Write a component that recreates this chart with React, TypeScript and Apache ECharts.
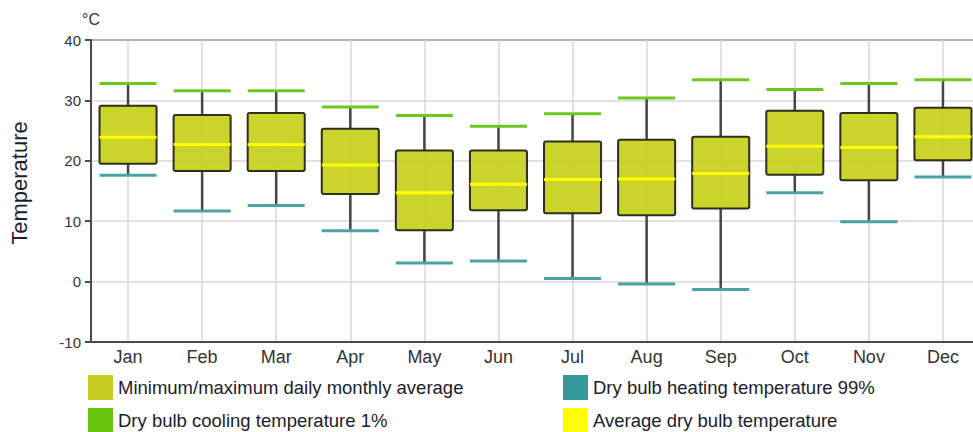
import React, { useEffect, useRef } from "react";
import * as echarts from "echarts";

const months = ["Jan", "Feb", "Mar", "Apr", "May", "Jun", "Jul", "Aug", "Sep", "Oct", "Nov", "Dec"];
const boxLow = [19.5, 18.3, 18.3, 14.5, 8.5, 11.8, 11.3, 11.0, 12.1, 17.7, 16.8, 20.1];
const boxHigh = [29.1, 27.6, 27.9, 25.3, 21.7, 21.7, 23.2, 23.5, 24.0, 28.3, 27.9, 28.8];
const average = [23.9, 22.7, 22.7, 19.3, 14.7, 16.1, 16.9, 17.0, 17.9, 22.4, 22.2, 24.0];
const cooling = [32.8, 31.6, 31.6, 28.9, 27.5, 25.7, 27.8, 30.4, 33.4, 31.8, 32.8, 33.4];
const heating = [17.6, 11.7, 12.6, 8.4, 3.1, 3.4, 0.5, -0.4, -1.3, 14.7, 9.9, 17.3];
const yTicks = { min: -10, max: 40, interval: 10 };

const FONT = "Liberation Sans";
const BOX_RATIO = 0.77;

function hLine(color: string) {
  return (params: any, api: any) => {
    const i = api.value(0);
    const v = api.value(1);
    const p = api.coord([i, v]);
    const w = api.size([1, 0])[0] * BOX_RATIO;
    return {
      type: "line",
      shape: { x1: p[0] - w / 2, y1: p[1], x2: p[0] + w / 2, y2: p[1] },
      style: { stroke: color, lineWidth: 3 },
    };
  };
}

const legendBase = {
  orient: "vertical",
  top: 375,
  height: 80,
  itemWidth: 25,
  itemHeight: 25,
  itemGap: 8,
  icon: "rect",
  padding: 0,
  textStyle: { color: "#1c1c2a", fontSize: 18.5, fontFamily: FONT },
};

export default function App() {
  const ref = useRef<HTMLDivElement>(null);
  useEffect(() => {
    if (!ref.current) return;
    const chart = echarts.init(ref.current, null, { renderer: "svg" });
    const boxData = months.map((_, i) => [i, boxLow[i], boxHigh[i], cooling[i], heating[i]]);
    const option: any = {
      animation: false,
      textStyle: { fontFamily: FONT },
      grid: {
        left: 91,
        top: 40,
        bottom: 90,
        right: -7,
        outerBoundsMode: "none",
        containLabel: false,
        show: true,
        borderColor: "#4a4a4a",
        borderWidth: 2,
        backgroundColor: "transparent",
      },
      xAxis: {
        type: "category",
        data: months,
        boundaryGap: true,
        axisLine: { show: true, onZero: false, lineStyle: { color: "#4a4a4a", width: 2 } },
        axisTick: { show: false, alignWithLabel: true },
        splitLine: { show: true, alignWithLabel: true, lineStyle: { color: "#d9d9d9", width: 1.5 } },
        axisLabel: { interval: 0, color: "#333", fontSize: 18, fontFamily: FONT, margin: 6 },
      },
      yAxis: {
        type: "value",
        min: yTicks.min,
        max: yTicks.max,
        interval: yTicks.interval,
        axisLine: { show: true, lineStyle: { color: "#4a4a4a", width: 2 } },
        axisTick: { show: true, length: 6, lineStyle: { color: "#4a4a4a", width: 2 } },
        splitLine: { show: true, lineStyle: { color: "#d9d9d9", width: 1.5 } },
        axisLabel: { color: "#333", fontSize: 15, fontFamily: FONT, margin: 10 },
      },
      legend: [
        {
          ...legendBase,
          data: ["Minimum/maximum daily monthly average", "Dry bulb cooling temperature 1%"],
          left: 88,
        },
        {
          ...legendBase,
          data: ["Dry bulb heating temperature 99%", "Average dry bulb temperature"],
          left: 563,
        },
      ],
      graphic: [
        {
          type: "text",
          x: 19,
          y: 183,
          rotation: Math.PI / 2,
          style: {
            text: "Temperature",
            fill: "#1c1c2a",
            font: `22px "${FONT}"`,
            textAlign: "center",
            textVerticalAlign: "middle",
          },
        },
        {
          type: "text",
          x: 91,
          y: 19,
          style: {
            text: "°C",
            fill: "#333",
            font: `16px "${FONT}"`,
            textAlign: "center",
            textVerticalAlign: "middle",
          },
        },
      ],
      series: [
        {
          name: "Minimum/maximum daily monthly average",
          type: "custom",
          itemStyle: { color: "#c6cc22" },
          encode: { x: 0, y: [1, 2, 3, 4] },
          data: boxData,
          renderItem: (params: any, api: any) => {
            const i = api.value(0);
            const lo = api.coord([i, api.value(1)]);
            const hi = api.coord([i, api.value(2)]);
            const top = api.coord([i, api.value(3)]);
            const bot = api.coord([i, api.value(4)]);
            const w = api.size([1, 0])[0] * BOX_RATIO;
            const x = lo[0];
            return {
              type: "group",
              children: [
                {
                  type: "line",
                  shape: { x1: x, y1: hi[1], x2: x, y2: top[1] },
                  style: { stroke: "#464646", lineWidth: 2.5 },
                },
                {
                  type: "line",
                  shape: { x1: x, y1: lo[1], x2: x, y2: bot[1] },
                  style: { stroke: "#464646", lineWidth: 2.5 },
                },
                {
                  type: "rect",
                  shape: { x: x - w / 2, y: hi[1], width: w, height: lo[1] - hi[1], r: 2 },
                  style: { fill: "rgba(198,208,24,0.92)", stroke: "#2e2e1e", lineWidth: 2 },
                },
              ],
            };
          },
        },
        {
          name: "Dry bulb cooling temperature 1%",
          type: "custom",
          itemStyle: { color: "#66c40e" },
          encode: { x: 0, y: 1 },
          data: months.map((_, i) => [i, cooling[i]]),
          renderItem: hLine("#6cc81e"),
        },
        {
          name: "Dry bulb heating temperature 99%",
          type: "custom",
          itemStyle: { color: "#349a98" },
          encode: { x: 0, y: 1 },
          data: months.map((_, i) => [i, heating[i]]),
          renderItem: hLine("#4aa3a3"),
        },
        {
          name: "Average dry bulb temperature",
          type: "custom",
          itemStyle: { color: "#ffff00" },
          encode: { x: 0, y: 1 },
          data: months.map((_, i) => [i, average[i]]),
          renderItem: hLine("#ffff00"),
        },
      ],
    };
    chart.setOption(option);
    return () => chart.dispose();
  }, []);
  return (
    <div
      ref={ref}
      style={{ position: "fixed", left: 0, top: 0, width: 973, height: 432, background: "#fff" }}
    />
  );
}
